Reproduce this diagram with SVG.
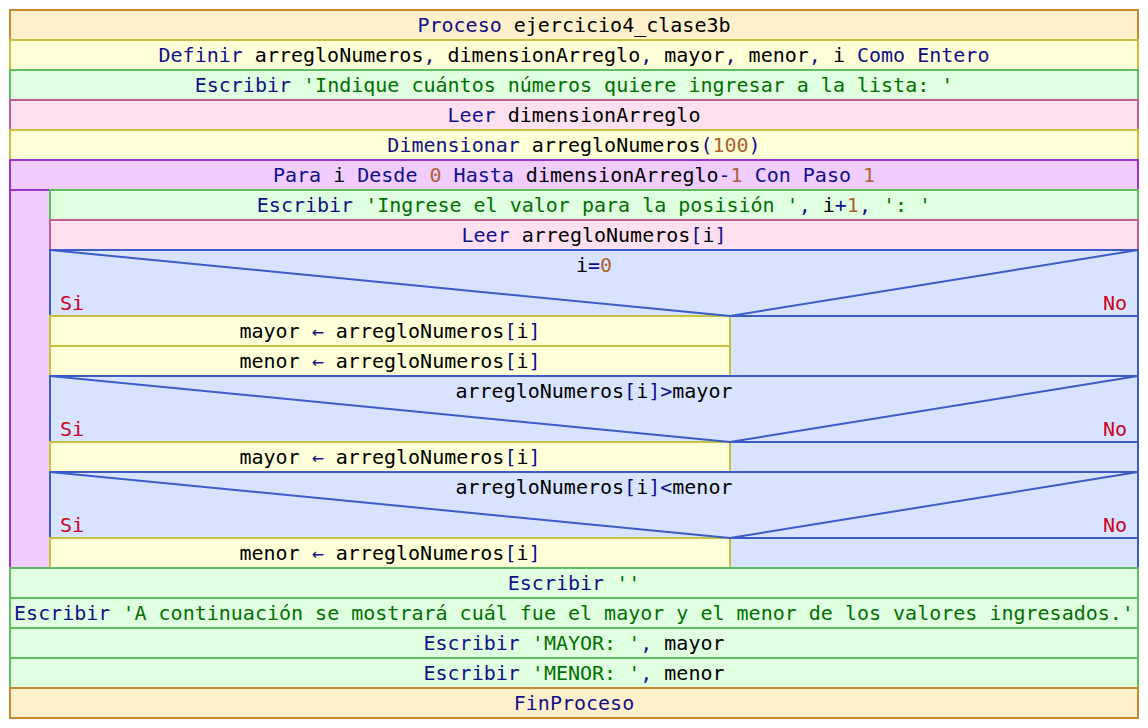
<svg xmlns="http://www.w3.org/2000/svg" width="1148" height="728" viewBox="0 0 1148 728">
<style>
rect, polyline, line { stroke-width: 2; }
.proc { fill: #fff0cc; stroke: #c8882c; }
.asig { fill: #ffffd8; stroke: #c8c040; }
.esc { fill: #e0ffe0; stroke: #60bc60; }
.leer { fill: #ffe0f0; stroke: #c06090; }
.para { fill: #f0ccff; stroke: #9933cc; }
.si { fill: #d8e4ff; stroke: #3c5cc8; }
.diag { fill: none; stroke: #3c5cc8; }
text { font-family: "DejaVu Sans Mono", "Liberation Mono", monospace; font-size: 20px; fill: #000000; }
.c { text-anchor: middle; }
.k { fill: #10108a; }
.s { fill: #007000; }
.n { fill: #b06030; }
.r { fill: #d00020; }
</style>
<rect x="0" y="0" width="1148" height="728" fill="#ffffff"/>
<g id="n-proceso"><rect class="proc" x="10" y="10" width="1128" height="30"/><text class="c" x="574" y="32"><tspan class="k">Proceso </tspan><tspan>ejercicio4_clase3b</tspan></text></g>
<g id="n-definir"><rect class="asig" x="10" y="40" width="1128" height="30"/><text class="c" x="574" y="62"><tspan class="k">Definir </tspan><tspan>arregloNumeros</tspan><tspan class="k">, </tspan><tspan>dimensionArreglo</tspan><tspan class="k">, </tspan><tspan>mayor</tspan><tspan class="k">, </tspan><tspan>menor</tspan><tspan class="k">, </tspan><tspan>i </tspan><tspan class="k">Como Entero</tspan></text></g>
<g id="n-escribir1"><rect class="esc" x="10" y="70" width="1128" height="30"/><text class="c" x="574" y="92"><tspan class="k">Escribir </tspan><tspan class="s">'Indique cuántos números quiere ingresar a la lista: '</tspan></text></g>
<g id="n-leer1"><rect class="leer" x="10" y="100" width="1128" height="30"/><text class="c" x="574" y="122"><tspan class="k">Leer </tspan><tspan>dimensionArreglo</tspan></text></g>
<g id="n-dim"><rect class="asig" x="10" y="130" width="1128" height="30"/><text class="c" x="574" y="152"><tspan class="k">Dimensionar </tspan><tspan>arregloNumeros</tspan><tspan class="k">(</tspan><tspan class="n">100</tspan><tspan class="k">)</tspan></text></g>
<g id="n-para"><rect class="para" x="10" y="160" width="1128" height="408"/><rect class="para" x="10" y="160" width="1128" height="30"/><text class="c" x="574" y="182"><tspan class="k">Para </tspan><tspan>i </tspan><tspan class="k">Desde </tspan><tspan class="n">0 </tspan><tspan class="k">Hasta </tspan><tspan>dimensionArreglo</tspan><tspan class="k">-</tspan><tspan class="n">1 </tspan><tspan class="k">Con Paso </tspan><tspan class="n">1</tspan></text></g>
<g id="n-escribir2"><rect class="esc" x="50" y="190" width="1088" height="30"/><text class="c" x="594" y="212"><tspan class="k">Escribir </tspan><tspan class="s">'Ingrese el valor para la posisión '</tspan><tspan class="k">, </tspan><tspan>i</tspan><tspan class="k">+</tspan><tspan class="n">1</tspan><tspan class="k">, </tspan><tspan class="s">': '</tspan></text></g>
<g id="n-leer2"><rect class="leer" x="50" y="220" width="1088" height="30"/><text class="c" x="594" y="242"><tspan class="k">Leer </tspan><tspan>arregloNumeros</tspan><tspan class="k">[</tspan><tspan>i</tspan><tspan class="k">]</tspan></text></g>
<g id="n-si1"><rect class="si" x="50" y="250" width="1088" height="126"/><line class="diag" x1="50" y1="316" x2="1138" y2="316"/><text class="c" x="594" y="272"><tspan>i</tspan><tspan class="k">=</tspan><tspan class="n">0</tspan></text><text class="r" x="60" y="310">Si</text><text class="r" x="1127" y="310" text-anchor="end">No</text></g>
<g id="n-asig1"><rect class="asig" x="50" y="316" width="680" height="30"/><text class="c" x="390" y="338"><tspan>mayor</tspan><tspan class="k"> ← </tspan><tspan>arregloNumeros</tspan><tspan class="k">[</tspan><tspan>i</tspan><tspan class="k">]</tspan></text></g>
<g id="n-asig2"><rect class="asig" x="50" y="346" width="680" height="30"/><text class="c" x="390" y="368"><tspan>menor</tspan><tspan class="k"> ← </tspan><tspan>arregloNumeros</tspan><tspan class="k">[</tspan><tspan>i</tspan><tspan class="k">]</tspan></text></g>
<g id="n-si2"><rect class="si" x="50" y="376" width="1088" height="96"/><line class="diag" x1="50" y1="442" x2="1138" y2="442"/><text class="c" x="594" y="398"><tspan>arregloNumeros</tspan><tspan class="k">[</tspan><tspan>i</tspan><tspan class="k">]&gt;</tspan><tspan>mayor</tspan></text><text class="r" x="60" y="436">Si</text><text class="r" x="1127" y="436" text-anchor="end">No</text></g>
<g id="n-asig3"><rect class="asig" x="50" y="442" width="680" height="30"/><text class="c" x="390" y="464"><tspan>mayor</tspan><tspan class="k"> ← </tspan><tspan>arregloNumeros</tspan><tspan class="k">[</tspan><tspan>i</tspan><tspan class="k">]</tspan></text></g>
<g id="n-si3"><rect class="si" x="50" y="472" width="1088" height="96"/><line class="diag" x1="50" y1="538" x2="1138" y2="538"/><text class="c" x="594" y="494"><tspan>arregloNumeros</tspan><tspan class="k">[</tspan><tspan>i</tspan><tspan class="k">]&lt;</tspan><tspan>menor</tspan></text><text class="r" x="60" y="532">Si</text><text class="r" x="1127" y="532" text-anchor="end">No</text></g>
<g id="n-asig4"><rect class="asig" x="50" y="538" width="680" height="30"/><text class="c" x="390" y="560"><tspan>menor</tspan><tspan class="k"> ← </tspan><tspan>arregloNumeros</tspan><tspan class="k">[</tspan><tspan>i</tspan><tspan class="k">]</tspan></text></g>
<g id="connectors">
<polyline class="diag" points="50,250 730,316 1138,250"/>
<polyline class="diag" points="50,376 730,442 1138,376"/>
<polyline class="diag" points="50,472 730,538 1138,472"/>
</g>
<g id="n-escribir3"><rect class="esc" x="10" y="568" width="1128" height="30"/><text class="c" x="574" y="590"><tspan class="k">Escribir </tspan><tspan class="s">''</tspan></text></g>
<g id="n-escribir4"><rect class="esc" x="10" y="598" width="1128" height="30"/><text class="c" x="574" y="620"><tspan class="k">Escribir </tspan><tspan class="s">'A continuación se mostrará cuál fue el mayor y el menor de los valores ingresados.'</tspan></text></g>
<g id="n-escribir5"><rect class="esc" x="10" y="628" width="1128" height="30"/><text class="c" x="574" y="650"><tspan class="k">Escribir </tspan><tspan class="s">'MAYOR: '</tspan><tspan class="k">, </tspan><tspan>mayor</tspan></text></g>
<g id="n-escribir6"><rect class="esc" x="10" y="658" width="1128" height="30"/><text class="c" x="574" y="680"><tspan class="k">Escribir </tspan><tspan class="s">'MENOR: '</tspan><tspan class="k">, </tspan><tspan>menor</tspan></text></g>
<g id="n-fin"><rect class="proc" x="10" y="688" width="1128" height="30"/><text class="c" x="574" y="710"><tspan class="k">FinProceso</tspan></text></g>
</svg>
